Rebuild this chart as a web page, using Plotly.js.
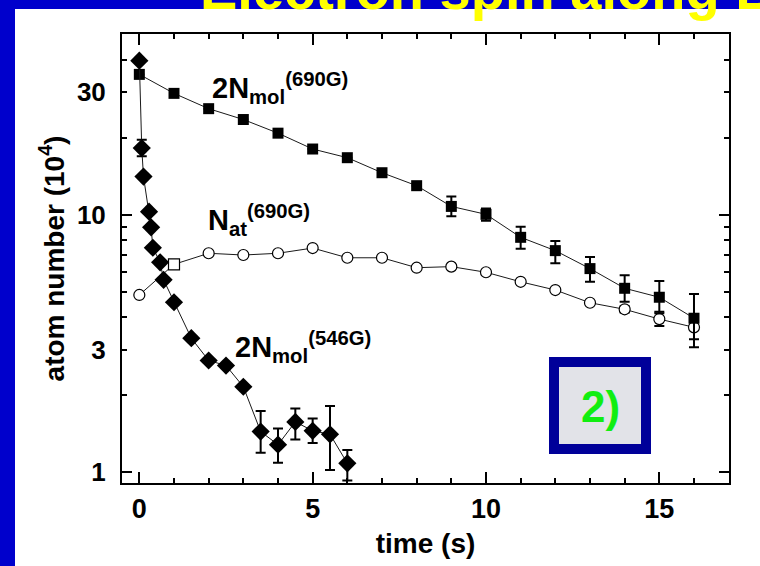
<!DOCTYPE html>
<html>
<head>
<meta charset="utf-8">
<script src="https://cdn.plot.ly/plotly-3.0.1.min.js"></script>
<style>
html,body{margin:0;padding:0;background:#0000cc;width:760px;height:566px;overflow:hidden;}
#white{position:absolute;left:15px;top:9px;width:745px;height:557px;background:#ffffff;}
#plot{position:absolute;left:0;top:0;width:760px;height:566px;}
</style>
</head>
<body>
<div id="white"></div>
<div id="plot"></div>
<script>
// ---- data ----
// 2N_mol (690 G): filled squares
var molHighTime = [0,1,2,3,4,5,6,7,8,9,10,11,12,13,14,15,16];
var molHighValue = [35.2,29.7,25.9,23.5,20.8,18.05,16.7,14.6,13.0,10.8,10.06,8.19,7.27,6.19,5.19,4.79,3.97];
var molHighUpper = [35.2,29.7,25.9,23.5,20.8,18.05,16.7,14.6,13.0,11.8,10.6,9.0,7.93,6.87,5.83,5.54,4.93];
var molHighLower = [35.2,29.7,25.9,23.5,20.8,18.05,16.7,14.6,13.0,9.9,9.5,7.4,6.49,5.5,4.6,4.15,3.29];

// N_at (690 G): open circles
var atomTime = [0,1,2,3,4,5,6,7,8,9,10,11,12,13,14,15,16];
var atomValue = [4.89,6.43,7.10,6.99,7.10,7.44,6.82,6.82,6.24,6.30,5.99,5.50,5.11,4.56,4.30,3.94,3.66];
var atomUpper = [4.89,6.43,7.10,6.99,7.10,7.44,6.82,6.82,6.24,6.30,5.99,5.50,5.11,4.56,4.42,4.21,3.97];
var atomLower = [4.89,6.43,7.10,6.99,7.10,7.44,6.82,6.82,6.24,6.30,5.99,5.50,5.11,4.56,4.18,3.70,3.06];
var atomSymbols = ['circle','square','circle','circle','circle','circle','circle','circle','circle','circle','circle','circle','circle','circle','circle','circle','circle'];

// 2N_mol (546 G): filled diamonds
var molLowTime = [0,0.07,0.12,0.28,0.34,0.39,0.6,0.7,1.0,1.5,2.0,2.5,3.0,3.5,4.0,4.5,5.0,5.5,6.0];
var molLowValue = [39.8,18.2,14.1,10.3,8.96,7.46,6.55,5.6,4.58,3.32,2.72,2.60,2.15,1.44,1.28,1.57,1.45,1.405,1.084];
var molLowUpper = [39.8,19.6,14.1,10.3,8.96,7.46,6.55,5.6,4.58,3.32,2.72,2.60,2.15,1.73,1.48,1.77,1.62,1.81,1.22];
var molLowLower = [39.8,16.9,14.1,10.3,8.96,7.46,6.55,5.6,4.58,3.32,2.72,2.60,2.15,1.19,1.09,1.34,1.30,1.02,0.93];

var xTickVals = [0,5,10,15];
var yTickVals = [1,3,10,30];
var yTickText = ['1','3','10','30'];
var yMinorVals = [2,4,5,6,7,8,9,20,40];
var yDecadeVals = [1,10];

// ---- helpers ----
function plus(v,u){return u.map(function(x,i){return x-v[i];});}
function minus(v,l){return l.map(function(x,i){return v[i]-x;});}

var FONT = 'Liberation Sans, Arial, sans-serif';
var W = 760, H = 566;
var L = 122, R = 31, T = 34, B = 83;
var pw = W-L-R, ph = H-T-B;
function px(x){return (x-L)/pw;}
function py(y){return (H-B-y)/ph;}

var lineStyle = {color:'#1a1a1a', width:1};
var errStyle = {type:'data', symmetric:false, color:'#000', thickness:2, width:5};

var traces = [
  {
    x: atomTime, y: atomValue, mode:'lines+markers', type:'scatter',
    line: lineStyle,
    marker: {symbol: atomSymbols, size:11, color:'#ffffff', line:{color:'#000', width:1.2}},
    error_y: Object.assign({}, errStyle, {array: plus(atomValue, atomUpper), arrayminus: minus(atomValue, atomLower)}),
    showlegend:false, hoverinfo:'x+y'
  },
  {
    x: molHighTime, y: molHighValue, mode:'lines+markers', type:'scatter',
    line: lineStyle,
    marker: {symbol:'square', size:11, color:'#000'},
    error_y: Object.assign({}, errStyle, {array: plus(molHighValue, molHighUpper), arrayminus: minus(molHighValue, molHighLower)}),
    showlegend:false, hoverinfo:'x+y'
  },
  {
    x: molLowTime, y: molLowValue, mode:'lines+markers', type:'scatter',
    yaxis:'y2',
    line: lineStyle,
    marker: {symbol:'diamond', size:14, color:'#000'},
    error_y: Object.assign({}, errStyle, {array: plus(molLowValue, molLowUpper), arrayminus: minus(molLowValue, molLowLower)}),
    showlegend:false, hoverinfo:'x+y'
  }
];

var yRange = [-0.0416, 1.7035];

var layout = {
  width: W, height: H,
  margin: {l:L, r:R, t:T, b:B, pad:0},
  paper_bgcolor: 'rgba(0,0,0,0)',
  plot_bgcolor: '#ffffff',
  showlegend: false,
  title: {
    text: 'Electron spin along B',
    font: {family: FONT, size: 56, color: '#ffff00', weight: 'bold'},
    xref: 'container', yref: 'container',
    x: 200/W, xanchor: 'left',
    y: 1 - 9/H, yanchor: 'bottom'
  },
  xaxis: {
    range: [-0.5, 17.01],
    tickmode: 'array', tickvals: xTickVals,
    ticks: 'inside', ticklen: 11, tickwidth: 2, tickcolor: '#000',
    showline: true, linewidth: 2, linecolor: '#000', mirror: 'ticks',
    showgrid: false, zeroline: false,
    ticklabelstandoff: 1,
    tickfont: {family: FONT, size: 27, color: '#000', weight: 'bold'},
    minor: {tickmode: 'linear', tick0: 0, dtick: 1, ticks: 'inside', ticklen: 5, tickwidth: 2, tickcolor: '#000', showgrid: false},
    title: {text: 'time (s)', font: {family: FONT, size: 28, color: '#000', weight: 'bold'}, standoff: 10}
  },
  yaxis: {
    type: 'log', range: yRange,
    tickmode: 'array', tickvals: yTickVals, ticktext: yTickText,
    ticks: 'inside', ticklen: 5, tickwidth: 2, tickcolor: '#000',
    showline: true, linewidth: 2, linecolor: '#000', mirror: 'ticks',
    showgrid: false, zeroline: false,
    ticklabelstandoff: 9,
    tickfont: {family: FONT, size: 26, color: '#000', weight: 'bold'},
    minor: {tickmode: 'array', tickvals: yMinorVals, ticks: 'inside', ticklen: 5, tickwidth: 2, tickcolor: '#000', showgrid: false},
    title: {text: 'atom number (10<sup>4</sup>)', font: {family: FONT, size: 28, color: '#000', weight: 'bold'}, standoff: 4}
  },
  yaxis2: {
    type: 'log', range: yRange, overlaying: 'y', side: 'left',
    tickmode: 'array', tickvals: yDecadeVals,
    ticks: 'inside', ticklen: 10, tickwidth: 2, tickcolor: '#000',
    showticklabels: false, showline: false, mirror: 'ticks',
    showgrid: false, zeroline: false
  },
  shapes: [
    {type:'rect', xref:'paper', yref:'paper', x0:px(549), x1:px(651), y0:py(454), y1:py(357), fillcolor:'#000099', line:{width:0}},
    {type:'rect', xref:'paper', yref:'paper', x0:px(559), x1:px(641), y0:py(444), y1:py(367), fillcolor:'#e2e3e8', line:{width:0}}
  ],
  annotations: [
    {text:'2N<sub>mol</sub><sup>(690G)</sup>', xref:'paper', yref:'paper', x:px(210), y:py(88), xanchor:'left', yanchor:'middle', showarrow:false,
     font:{family:FONT, size:29, color:'#000', weight:'bold'}},
    {text:'N<sub>at</sub><sup>(690G)</sup>', xref:'paper', yref:'paper', x:px(206), y:py(220), xanchor:'left', yanchor:'middle', showarrow:false,
     font:{family:FONT, size:29, color:'#000', weight:'bold'}},
    {text:'2N<sub>mol</sub><sup>(546G)</sup>', xref:'paper', yref:'paper', x:px(233), y:py(347), xanchor:'left', yanchor:'middle', showarrow:false,
     font:{family:FONT, size:29, color:'#000', weight:'bold'}},
    {text:'2)', xref:'paper', yref:'paper', x:px(600), y:py(406), xanchor:'center', yanchor:'middle', showarrow:false,
     font:{family:FONT, size:44, color:'#11ee11', weight:'bold'}}
  ]
};

Plotly.newPlot('plot', traces, layout, {staticPlot:true, displayModeBar:false});
</script>
</body>
</html>
